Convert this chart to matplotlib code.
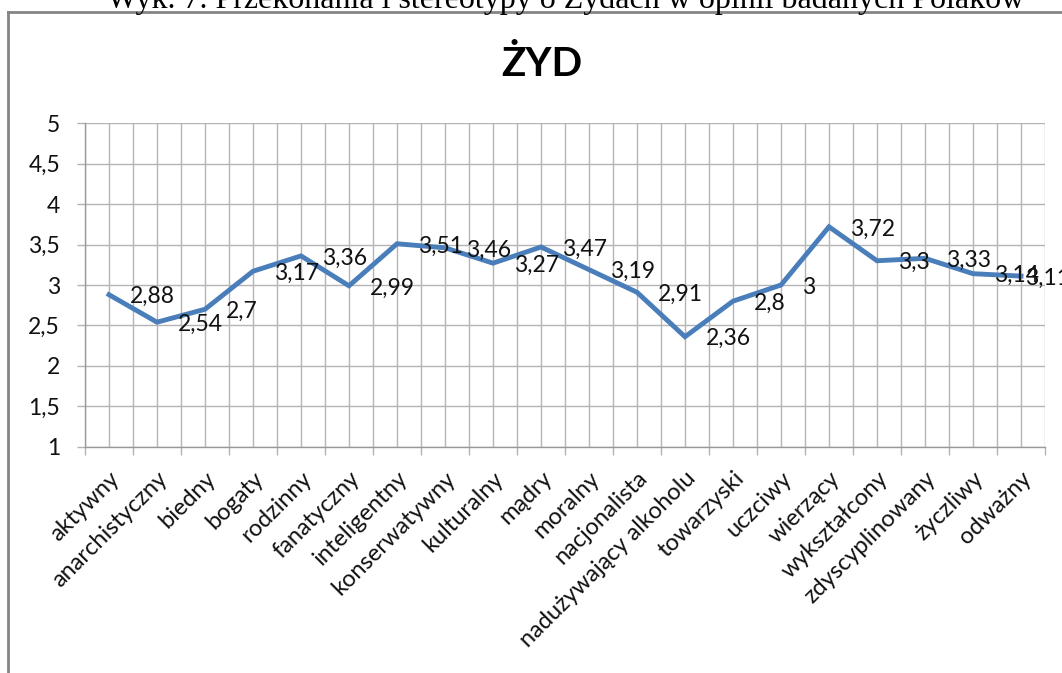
import matplotlib
matplotlib.use("Agg")
import matplotlib.pyplot as plt
from matplotlib.lines import Line2D

# data
categories = ["aktywny", "anarchistyczny", "biedny", "bogaty", "rodzinny",
              "fanatyczny", "inteligentny", "konserwatywny", "kulturalny", "mądry",
              "moralny", "nacjonalista", "nadużywający alkoholu", "towarzyski", "uczciwy",
              "wierzący", "wykształcony", "zdyscyplinowany", "życzliwy", "odważny"]
values = [2.88, 2.54, 2.7, 3.17, 3.36, 2.99, 3.51, 3.46, 3.27, 3.47,
          3.19, 2.91, 2.36, 2.8, 3.0, 3.72, 3.3, 3.33, 3.14, 3.11]
y_ticks = [1, 1.5, 2, 2.5, 3, 3.5, 4, 4.5, 5]

doc_caption = "Wyk. 7. Przekonania i stereotypy o Żydach w opinii badanych Polaków"
chart_title = "ŻYD"

W, H = 1062, 673
plt.rcParams['font.family'] = ['Lato', 'DejaVu Sans']

fig = plt.figure(figsize=(W / 100, H / 100), dpi=100)

def fx(px):
    return px / W

def fy(py):
    return 1 - py / H

# document caption, cut off by the top of the image
fig.text(fx(566), fy(8), doc_caption, family=['Liberation Serif', 'DejaVu Serif'],
         fontsize=23, ha='center', va='baseline', color='black')

# chart frame (only top and left edges are visible)
frame_col = '#858585'
fig.add_artist(Line2D([fx(8), 1.0], [fy(11.5), fy(11.5)], color=frame_col, lw=2))
fig.add_artist(Line2D([fx(8), fx(8)], [fy(11.5), 0.0], color=frame_col, lw=2))

fig.text(fx(541.5), fy(76), chart_title, fontsize=29, fontweight='bold',
         ha='center', va='baseline', color='black')

ax = fig.add_axes([fx(85), fy(446.7), fx(1045 - 85), (446.7 - 123.3) / H])

x = list(range(len(categories)))
ax.plot(x, values, color='#4a7ebb', lw=3.5, solid_joinstyle='miter', zorder=3)

# data labels sit right of each point, like the Excel default here
for i, v in enumerate(values):
    dx = 15 if i < len(values) - 1 else 3
    ax.annotate(f"{v:g}".replace('.', ','), (i, v), xytext=(dx, -1.5),
                textcoords='offset points', ha='left', va='center',
                fontsize=16.5, color='#111111', annotation_clip=False, zorder=4)

ax.set_xlim(-0.5, len(categories) - 0.5)
ax.set_ylim(1, 5)

grid_col = '#b4b4b4'
ax.set_xticks([i - 0.5 for i in range(len(categories) + 1)])
ax.set_xticklabels([])
ax.set_xticks(x, minor=True)
ax.set_xticklabels(categories, minor=True, rotation=45, ha='right',
                   rotation_mode='anchor', fontsize=17, color='#111111')
ax.tick_params(axis='x', which='major', direction='out', length=6, width=1, color=grid_col)
ax.tick_params(axis='x', which='minor', length=0, pad=15)

ax.set_yticks(y_ticks)
ax.set_yticklabels([f"{t:g}".replace('.', ',') for t in y_ticks],
                   fontsize=16.5, color='#111111')
ax.tick_params(axis='y', direction='out', length=6, width=1, color=grid_col, pad=12)

ax.grid(True, which='both', color=grid_col, lw=1)
ax.set_axisbelow(True)
for side in ['top', 'right']:
    ax.spines[side].set_visible(False)
for side in ['left', 'bottom']:
    ax.spines[side].set_color('#9a9a9a')
    ax.spines[side].set_linewidth(1)

fig.savefig("out.png", dpi=100)
